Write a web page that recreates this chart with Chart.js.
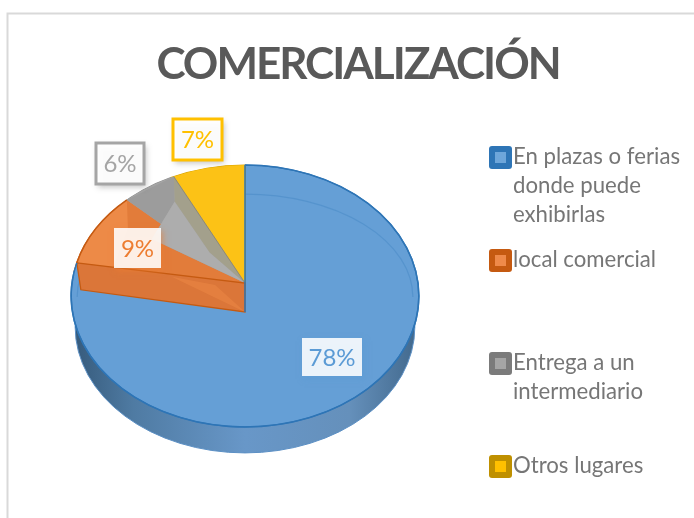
<!DOCTYPE html>
<html><head><meta charset="utf-8">
<style>html,body{margin:0;padding:0;background:#fff}canvas{display:block}</style>
<script src="https://cdn.jsdelivr.net/npm/chart.js@4"></script>
</head><body><canvas id="c" width="694" height="518"></canvas>
<script>
const TITLE = 'COMERCIALIZACIÓN';
const categories = ['En plazas o ferias donde puede exhibirlas','local comercial','Entrega a un intermediario','Otros lugares'];
const legendLines = [['En plazas o ferias','donde puede','exhibirlas'],['local comercial'],['Entrega a un','intermediario'],['Otros lugares']];
const values = [78,9,6,7];
const sliceColors = ['#659fd6','#ed8a47','#a5a5a5','#fcc216'];
const edgeColors = ['#2e75b6','#c55a11','#8f8f8f','#d9a400'];
const legendOuter = ['#2e75b6','#c55a11','#7b7b7b','#bf9000'];
const legendInner = ['#6ea6da','#ee8a4a','#a5a5a5','#ffc000'];
const labelColors = ['#5b9bd5','#ed7d31','#a5a5a5','#ffc000'];
const labelBoxes = [[302,338,60,38],[114,228,47,40],[96,143,48,41],[173,119,49,41]];
// apparent shift of each slice's end on the tilted rim (perspective), in degrees
const rimShiftDeg = [3.9,4,1,0];

const FONT = 'Lato, Carlito, sans-serif';
const P = {cx:245, cy:296, sy:0.753, lift:13, drop:16, wallX:4, wallY:27};

function pt(a,r,cy){return [P.cx+Math.cos(a)*r, cy+Math.sin(a)*r*P.sy];}
function poly(ctx,pts,fill,stroke){
  ctx.beginPath();pts.forEach((p,i)=>i?ctx.lineTo(p[0],p[1]):ctx.moveTo(p[0],p[1]));ctx.closePath();
  if(fill){ctx.fillStyle=fill;ctx.fill();}
  if(stroke){ctx.strokeStyle=stroke;ctx.lineWidth=1.3;ctx.stroke();}
}
function rrect(ctx,x,y,w,h,r){ctx.beginPath();ctx.roundRect(x,y,w,h,r);}

const pie3d = {
  id:'pie3d',
  beforeDraw(chart){
    const ctx=chart.ctx;
    ctx.save();ctx.strokeStyle='#d9d9d9';ctx.lineWidth=2;
    ctx.beginPath();ctx.moveTo(7.5,518);ctx.lineTo(7.5,13.5);ctx.lineTo(694,13.5);ctx.stroke();ctx.restore();
    ctx.letterSpacing='-2px';
  },
  beforeDatasetsDraw(chart){
    const ctx=chart.ctx, a=chart.getDatasetMeta(0).data[0], R=a.outerRadius;
    ctx.letterSpacing='0px';
    ctx.save();
    const g=ctx.createLinearGradient(P.cx-R,0,P.cx+R,0);
    g.addColorStop(0,'#35597a');g.addColorStop(.18,'#4f7ba3');g.addColorStop(.5,'#6897c8');g.addColorStop(.8,'#6590bb');g.addColorStop(1,'#41688c');
    ctx.beginPath();ctx.ellipse(P.cx,P.cy+31,R-4,R*P.sy-5,0,0,Math.PI*2);
    ctx.fillStyle=g;ctx.fill();
    ctx.strokeStyle='#5b8fc4';ctx.lineWidth=1;ctx.stroke();
    ctx.restore();
    ctx.save();
    ctx.translate(P.cx,P.cy);ctx.scale(1,P.sy);ctx.translate(-a.x,-a.y);
  },
  afterDatasetsDraw(chart){
    const ctx=chart.ctx, arcs=chart.getDatasetMeta(0).data;
    ctx.restore();
    const R=arcs[0].outerRadius, apex=[P.cx,P.cy-P.lift], low=[P.cx,P.cy+P.drop];
    const d=Math.PI/180;
    const ends=arcs.map((a,i)=>a.endAngle+rimShiftDeg[i]*d);
    const starts=arcs.map((a,i)=>i?ends[i-1]:a.startAngle);
    ctx.save();
    // blue rim extends to the shifted end
    ctx.beginPath();ctx.moveTo(P.cx,P.cy+P.drop);
    ctx.ellipse(P.cx,P.cy,R,R*P.sy,0,arcs[0].endAngle-0.03,ends[0]);ctx.closePath();
    ctx.fillStyle=sliceColors[0];ctx.fill();
    // faint inner ring
    ctx.strokeStyle='rgba(46,117,182,.28)';ctx.lineWidth=1.2;
    ctx.beginPath();ctx.ellipse(P.cx,P.cy+1,R-6,R*P.sy-28,0,Math.PI,Math.PI*2);ctx.stroke();
    // raised wedges
    [1,2,3].forEach(i=>{
      ctx.beginPath();ctx.moveTo(apex[0],apex[1]);
      ctx.ellipse(P.cx,P.cy,R,R*P.sy,0,starts[i],ends[i]);ctx.closePath();
      ctx.fillStyle=sliceColors[i];ctx.fill();
    });
    // inner walls of the wedges
    const oS=pt(starts[1],R,P.cy), oE=pt(starts[2],R,P.cy), yS=pt(starts[3],R,P.cy);
    poly(ctx,[oE,[oE[0]+1,oE[1]+28],[oE[0]-14,oE[1]+68],apex],'#e27c3a');
    poly(ctx,[oE,yS,[yS[0]+1,yS[1]+25],[oE[0]+25,oE[1]+39],apex],'#9c9c9c');
    poly(ctx,[[oE[0]+25,oE[1]+39],[yS[0]+1,yS[1]+25],[yS[0]+36,yS[1]+76],apex],'#adadad');
    poly(ctx,[yS,[yS[0]+1,yS[1]+25],[yS[0]+36,yS[1]+76],apex],'#a3a08c');
    ctx.beginPath();ctx.moveTo(apex[0],apex[1]);ctx.lineTo(yS[0],yS[1]);ctx.strokeStyle='#8d8a78';ctx.lineWidth=1;ctx.stroke();
    // front wall of the orange wedge
    poly(ctx,[oS,apex,low,[oS[0]+P.wallX,oS[1]+P.wallY]],'#db7639',edgeColors[1]);
    poly(ctx,[[oS[0]+95,oS[1]+14],[apex[0]-30,apex[1]+2],low],'rgba(240,140,70,.45)');
    // rim and seam
    ctx.strokeStyle=edgeColors[0];ctx.lineWidth=1.5;
    ctx.beginPath();ctx.moveTo(P.cx,P.cy-R*P.sy);ctx.lineTo(low[0],low[1]);ctx.stroke();
    ctx.beginPath();ctx.ellipse(P.cx,P.cy,R,R*P.sy,0,arcs[0].startAngle,ends[0]);ctx.stroke();
    ctx.strokeStyle=edgeColors[1];ctx.beginPath();ctx.ellipse(P.cx,P.cy,R,R*P.sy,0,starts[1],ends[1]);ctx.stroke();
    ctx.restore();

    // data labels
    const total=values.reduce((s,v)=>s+v,0);
    values.forEach((v,i)=>{
      const [x,y,w,h]=labelBoxes[i];
      ctx.save();
      ctx.shadowColor=i<2?labelColors[i]+'aa':'rgba(90,90,90,.4)';
      ctx.shadowBlur=6;ctx.shadowOffsetX=2;ctx.shadowOffsetY=3;
      ctx.fillStyle=i<2?'rgba(255,255,255,.88)':'rgba(255,255,255,.95)';
      ctx.fillRect(x,y,w,h);
      ctx.shadowColor='transparent';
      if(i>=2){ctx.strokeStyle=labelColors[i];ctx.lineWidth=3;ctx.strokeRect(x,y,w,h);}
      ctx.fillStyle=labelColors[i];ctx.font='24px '+FONT;ctx.textAlign='center';ctx.textBaseline='middle';
      ctx.fillText(Math.round(v/total*100)+'%',x+w/2,y+h/2+1);
      ctx.restore();
    });

    // legend
    const lx=489, ys=[146,249,352,455];
    legendLines.forEach((lines,i)=>{
      ctx.save();
      ctx.fillStyle=legendOuter[i];rrect(ctx,lx,ys[i],23,23,3);ctx.fill();
      ctx.fillStyle=legendInner[i];ctx.fillRect(lx+6,ys[i]+6,11,11);
      ctx.fillStyle='#767676';ctx.font='22.2px '+FONT;ctx.textBaseline='alphabetic';ctx.textAlign='left';
      lines.forEach((t,k)=>ctx.fillText(t,513,ys[i]+18+k*29));
      ctx.restore();
    });
  }
};

new Chart(document.getElementById('c'),{
  type:'pie',
  data:{labels:categories,datasets:[{data:values,backgroundColor:sliceColors,borderColor:edgeColors,borderWidth:1.5}]},
  options:{
    responsive:false,animation:false,
    layout:{padding:{left:22,right:0,top:0,bottom:78}},
    plugins:{
      legend:{display:false},tooltip:{enabled:false},
      title:{display:true,text:TITLE,color:'#595959',font:{family:FONT,size:44,weight:'bold'},padding:{top:38,bottom:0}}
    }
  },
  plugins:[pie3d]
});
</script></body></html>
